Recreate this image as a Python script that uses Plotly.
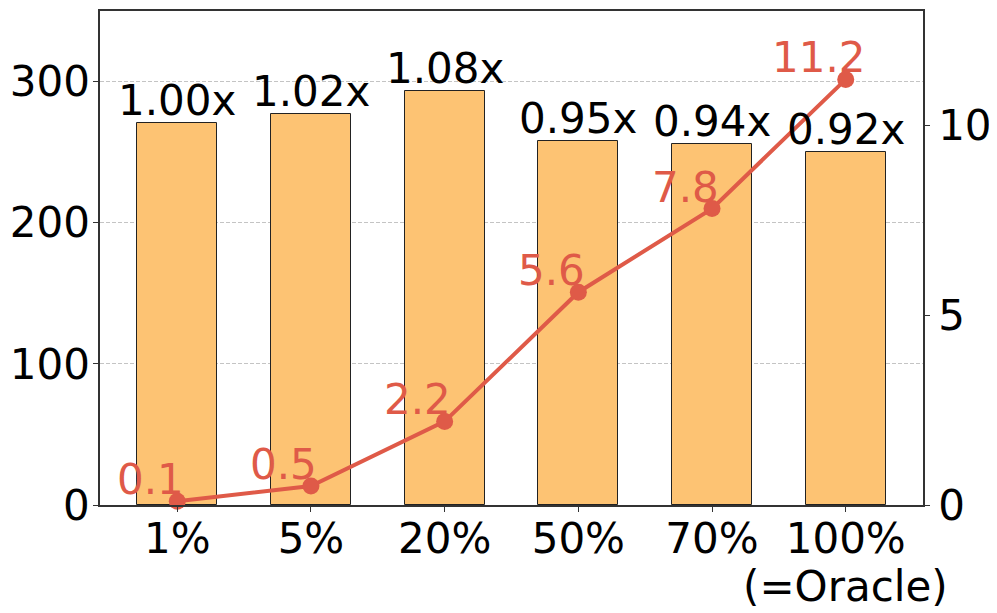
import plotly.graph_objects as go

categories = ["1%", "5%", "20%", "50%", "70%", "100%"]
oracle_note = "(=Oracle)"
bar_values = [271, 277, 293, 258, 256, 250]
ratio_labels = ["1.00x", "1.02x", "1.08x", "0.95x", "0.94x", "0.92x"]
line_values = [0.1, 0.5, 2.2, 5.6, 7.8, 11.2]
line_labels = ["0.1", "0.5", "2.2", "5.6", "7.8", "11.2"]

BAR_COLOR = "#FDC373"
LINE_COLOR = "#DF5A48"
FONT = "DejaVu Sans"
FS = 42

fig = go.Figure()
fig.add_trace(go.Bar(
    x=categories, y=bar_values, width=0.6,
    marker=dict(color=BAR_COLOR, line=dict(color="#222222", width=1)),
    showlegend=False, hoverinfo="skip",
))
fig.add_trace(go.Scatter(
    x=categories, y=line_values, yaxis="y2", mode="lines+markers",
    line=dict(color=LINE_COLOR, width=4),
    marker=dict(color=LINE_COLOR, size=17),
    showlegend=False, cliponaxis=False,
))

annotations = []
for c, v, t in zip(categories, bar_values, ratio_labels):
    annotations.append(dict(x=c, y=v, xref="x", yref="y", text=t, showarrow=False,
                            xanchor="center", yanchor="bottom", yshift=-4,
                            font=dict(family=FONT, size=FS, color="black")))
for c, v, t in zip(categories, line_values, line_labels):
    annotations.append(dict(x=c, y=v, xref="x", yref="y2", text=t, showarrow=False,
                            xanchor="center", yanchor="bottom", xshift=-27, yshift=-5,
                            font=dict(family=FONT, size=FS, color=LINE_COLOR)))
annotations.append(dict(x=categories[-1], y=0, xref="x", yref="paper", text=oracle_note,
                        showarrow=False, xanchor="center", yanchor="top", yshift=-55,
                        font=dict(family=FONT, size=FS, color="black")))

fig.update_layout(
    width=997, height=613,
    margin=dict(l=92, r=82, t=3, b=116, autoexpand=False),
    plot_bgcolor="white", paper_bgcolor="white",
    font=dict(family=FONT, size=FS, color="black"),
    bargap=0,
    annotations=annotations,
    xaxis=dict(
        type="category", range=[-0.578, 5.578], tickangle=0, automargin=False,
        showline=True, linecolor="#333333", linewidth=1.5, mirror=True,
        ticks="outside", ticklen=5, tickcolor="#333333", ticklabelstandoff=-9,
        tickfont=dict(family=FONT, size=FS, color="black"),
        showgrid=False,
    ),
    yaxis=dict(
        range=[0, 350], tickvals=[0, 100, 200, 300], automargin=False,
        showline=True, linecolor="#333333", linewidth=1.5,
        ticks="outside", ticklen=5, tickcolor="#333333", ticklabelstandoff=-5,
        tickfont=dict(family=FONT, size=FS, color="black"),
        showgrid=True, gridcolor="#c4c4c4", griddash="4px,2px", gridwidth=0.8,
        zeroline=False,
    ),
    yaxis2=dict(
        overlaying="y", side="right", range=[0, 13], tickvals=[0, 5, 10], automargin=False,
        showline=True, linecolor="#333333", linewidth=1.5,
        ticks="outside", ticklen=5, tickcolor="#333333",
        tickfont=dict(family=FONT, size=FS, color="black"),
        showgrid=False, zeroline=False,
    ),
)

fig.write_html("out.html")
